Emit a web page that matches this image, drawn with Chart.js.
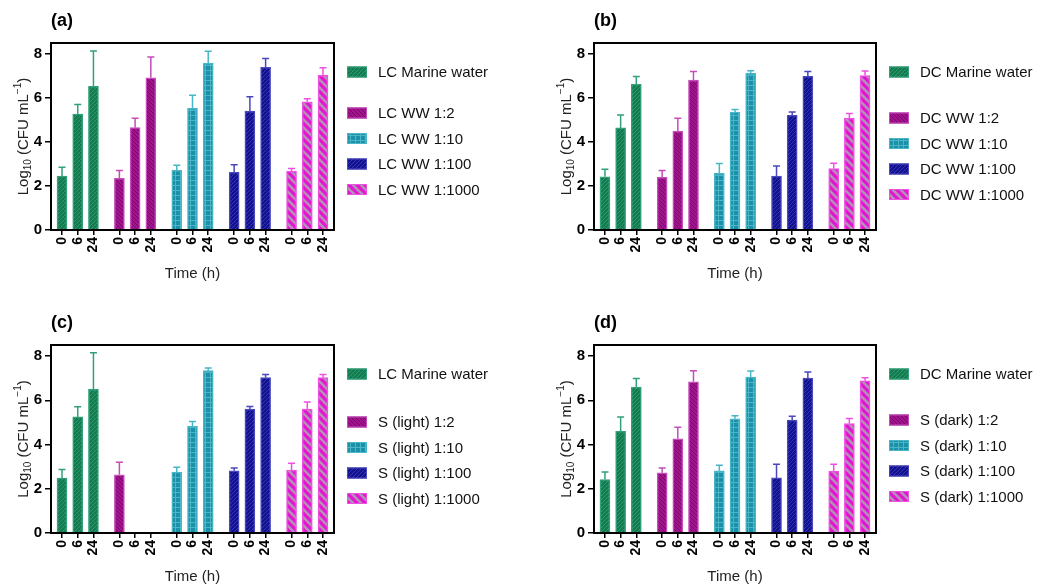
<!DOCTYPE html>
<html>
<head>
<meta charset="utf-8">
<script src="https://cdn.jsdelivr.net/npm/chart.js@4.4.1/dist/chart.umd.min.js"></script>
<style>
  body { margin: 0; background: #fff; width: 1051px; height: 585px; position: relative; overflow: hidden; }
  canvas { position: absolute; }
</style>
</head>
<body>
<canvas id="chartA" width="525" height="290" style="left:0;top:0"></canvas>
<canvas id="chartB" width="508" height="290" style="left:543px;top:0"></canvas>
<canvas id="chartC" width="525" height="283" style="left:0;top:302px"></canvas>
<canvas id="chartD" width="508" height="283" style="left:543px;top:302px"></canvas>
<script>
// Time points shown under each group of bars
const timeLabels = ['0', '6', '24'];
const yTicks = [0, 2, 4, 6, 8];

// Legend labels per panel
const labelsA = ['LC Marine water', 'LC WW 1:2', 'LC WW 1:10', 'LC WW 1:100', 'LC WW 1:1000'];
const labelsB = ['DC Marine water', 'DC WW 1:2', 'DC WW 1:10', 'DC WW 1:100', 'DC WW 1:1000'];
const labelsC = ['LC Marine water', 'S (light) 1:2', 'S (light) 1:10', 'S (light) 1:100', 'S (light) 1:1000'];
const labelsD = ['DC Marine water', 'S (dark) 1:2', 'S (dark) 1:10', 'S (dark) 1:100', 'S (dark) 1:1000'];

// Mean log10 CFU/mL at 0, 6, 24 h (one row per series)
const meansA = [[2.45, 5.27, 6.53], [2.35, 4.65, 6.92], [2.71, 5.53, 7.58], [2.62, 5.41, 7.39], [2.67, 5.83, 7.03]];
const errA   = [[0.40, 0.44, 1.61], [0.35, 0.43, 0.94], [0.23, 0.59, 0.54], [0.35, 0.65, 0.41], [0.13, 0.14, 0.35]];

const meansB = [[2.42, 4.64, 6.62], [2.39, 4.50, 6.82], [2.58, 5.36, 7.12], [2.45, 5.21, 6.98], [2.79, 5.09, 7.02]];
const errB   = [[0.34, 0.59, 0.36], [0.31, 0.58, 0.38], [0.44, 0.12, 0.12], [0.46, 0.15, 0.22], [0.24, 0.21, 0.21]];

const meansC = [[2.48, 5.25, 6.51], [2.63, null, null], [2.75, 4.83, 7.34], [2.81, 5.60, 7.03], [2.85, 5.60, 7.03]];
const errC   = [[0.39, 0.46, 1.64], [0.57, null, null], [0.22, 0.21, 0.12], [0.13, 0.12, 0.14], [0.30, 0.32, 0.14]];

const meansD = [[2.42, 4.60, 6.60], [2.72, 4.26, 6.84], [2.81, 5.16, 7.05], [2.49, 5.10, 7.00], [2.79, 4.95, 6.88]];
const errD   = [[0.34, 0.64, 0.39], [0.22, 0.52, 0.50], [0.25, 0.14, 0.27], [0.62, 0.18, 0.28], [0.32, 0.23, 0.14]];

const FONT = '"Liberation Sans", Arial, sans-serif';

// Bar position on the linear x axis: 3 bars per group, groups spaced apart
const GROUP_STRIDE = 3.65;
function barPos(g, i) { return g * GROUP_STRIDE + i; }
const allPos = [];
for (let g = 0; g < 5; g++) for (let i = 0; i < 3; i++) allPos.push(barPos(g, i));

// Fill patterns like the GraphPad hatching
function makePattern(kind) {
    const c = document.createElement('canvas');
    const x = c.getContext('2d');
    let s = 4;
    if (kind === 'teal') s = 5;
    if (kind === 'magenta') s = 8;
    c.width = s; c.height = s;
    const base = { green: '#147a50', purple: '#a3138f', teal: '#1a91a9', navy: '#12128f', magenta: '#e216d2' }[kind];
    x.fillStyle = base;
    x.fillRect(0, 0, s, s);
    x.lineCap = 'square';
    if (kind === 'green' || kind === 'navy') {
        x.strokeStyle = kind === 'green' ? '#2d9a6c' : '#3535b8';
        x.lineWidth = 1;
        x.beginPath();
        x.moveTo(0, s); x.lineTo(s, 0);
        x.moveTo(-1, 1); x.lineTo(1, -1);
        x.moveTo(s - 1, s + 1); x.lineTo(s + 1, s - 1);
        x.stroke();
    } else if (kind === 'purple') {
        x.strokeStyle = '#760866';
        x.lineWidth = 1;
        x.beginPath();
        x.moveTo(0, 0); x.lineTo(s, s);
        x.moveTo(s - 1, -1); x.lineTo(s + 1, 1);
        x.moveTo(-1, s - 1); x.lineTo(1, s + 1);
        x.stroke();
    } else if (kind === 'teal') {
        x.fillStyle = '#4cb6c6';
        x.fillRect(0, 0, s, 1);
        x.fillRect(0, 0, 1, s);
    } else if (kind === 'magenta') {
        x.strokeStyle = '#b392b6';
        x.lineWidth = 2.6;
        x.beginPath();
        x.moveTo(0, 0); x.lineTo(s, s);
        x.moveTo(s - 4, -4); x.lineTo(s + 4, 4);
        x.moveTo(-4, s - 4); x.lineTo(4, s + 4);
        x.stroke();
    }
    return x.createPattern(c, 'repeat');
}

const kinds = ['green', 'purple', 'teal', 'navy', 'magenta'];
const borderColors = ['#32a07a', '#c44dba', '#48b6c6', '#4848bc', '#ef50e2'];

// Error bars, frame, legend and titles
const overlay = {
    id: 'overlay',
    afterDatasetsDraw(chart) {
        const ctx = chart.ctx;
        const y = chart.scales.y;
        chart.data.datasets.forEach((ds, i) => {
            const meta = chart.getDatasetMeta(i);
            meta.data.forEach((bar, j) => {
                const m = ds.data[j].y;
                const e = ds.errors[j];
                if (m == null || e == null) return;
                const top = y.getPixelForValue(m + e);
                const bt = y.getPixelForValue(m);
                ctx.save();
                ctx.strokeStyle = ds.borderColor;
                ctx.lineWidth = 1.5;
                ctx.beginPath();
                ctx.moveTo(bar.x, bt);
                ctx.lineTo(bar.x, top);
                ctx.moveTo(bar.x - 3.5, top);
                ctx.lineTo(bar.x + 3.5, top);
                ctx.stroke();
                ctx.restore();
            });
        });
    },
    afterDraw(chart, args, opts) {
        const ctx = chart.ctx;
        const a = chart.chartArea;
        ctx.save();

        // frame
        ctx.strokeStyle = '#000';
        ctx.lineWidth = 2;
        ctx.strokeRect(a.left, a.top, a.right - a.left, a.bottom - a.top);

        // panel letter
        ctx.fillStyle = '#000';
        ctx.font = 'bold 18px ' + FONT;
        ctx.textBaseline = 'middle';
        ctx.textAlign = 'left';
        ctx.fillText(opts.letter, a.left, a.top - 22);

        // x title
        ctx.font = '15px ' + FONT;
        ctx.fillStyle = '#222';
        ctx.textAlign = 'center';
        ctx.fillText('Time (h)', (a.left + a.right) / 2, a.bottom + 44);

        // y title with subscript / superscript
        ctx.translate(24, (a.top + a.bottom) / 2);
        ctx.rotate(-Math.PI / 2);
        const parts = [
            { t: 'Log', size: 15, dy: 0 },
            { t: '10', size: 10, dy: 4 },
            { t: ' (CFU mL', size: 15, dy: 0 },
            { t: '\u22121', size: 10, dy: -6 },
            { t: ')', size: 15, dy: 0 }
        ];
        let total = 0;
        parts.forEach(p => { ctx.font = p.size + 'px ' + FONT; p.w = ctx.measureText(p.t).width; total += p.w; });
        let px = -total / 2;
        ctx.textAlign = 'left';
        parts.forEach(p => {
            ctx.font = p.size + 'px ' + FONT;
            ctx.fillText(p.t, px, p.dy);
            px += p.w;
        });
        ctx.setTransform(1, 0, 0, 1, 0, 0);

        // legend
        chart.data.datasets.forEach((ds, i) => {
            const cy = a.top + 29 + (i === 0 ? 0 : opts.legendGap + (i - 1) * 25.5);
            const sx = a.right + 13;
            ctx.fillStyle = ds.backgroundColor;
            ctx.fillRect(sx, cy - 5.5, 20, 11);
            ctx.strokeStyle = ds.borderColor;
            ctx.lineWidth = 1;
            ctx.strokeRect(sx + 0.5, cy - 5, 19, 10);
            ctx.fillStyle = '#111';
            ctx.font = '15px ' + FONT;
            ctx.textAlign = 'left';
            ctx.textBaseline = 'middle';
            ctx.fillText(ds.label, a.right + 44, cy + 1);
        });
        ctx.restore();
    }
};

function makeChart(id, letter, labels, means, errs, rightPad, xAxisH, legendGap) {
    const datasets = labels.map((lab, g) => ({
        label: lab,
        data: means[g].map((v, i) => ({ x: barPos(g, i), y: v })),
        errors: errs[g],
        backgroundColor: makePattern(kinds[g]),
        borderColor: borderColors[g],
        borderWidth: 1.5,
        barThickness: 10,
        grouped: false
    }));

    new Chart(document.getElementById(id), {
        type: 'bar',
        data: { datasets },
        plugins: [overlay],
        options: {
            responsive: false,
            animation: false,
            devicePixelRatio: 1,
            layout: { padding: { top: 43, right: rightPad, left: 0, bottom: 0 } },
            plugins: {
                legend: { display: false },
                tooltip: { enabled: false },
                overlay: { letter, legendGap }
            },
            scales: {
                x: {
                    type: 'linear',
                    offset: false,
                    min: -0.7,
                    max: barPos(4, 2) + 0.7,
                    border: { display: false },
                    grid: { offset: false, drawOnChartArea: false, drawTicks: true, tickLength: 5, color: '#000', lineWidth: 1.5 },
                    ticks: {
                        autoSkip: false,
                        minRotation: 90,
                        maxRotation: 90,
                        padding: 2,
                        color: '#000',
                        font: { family: FONT, size: 14, weight: 'bold' },
                        callback: (v, i) => timeLabels[i % 3]
                    },
                    afterBuildTicks: s => { s.ticks = allPos.map(v => ({ value: v })); },
                    afterFit: s => { s.height = xAxisH; }
                },
                y: {
                    min: 0,
                    max: 8.5,
                    border: { display: false },
                    grid: { drawOnChartArea: false, drawTicks: true, tickLength: 6, color: '#000', lineWidth: 1.5 },
                    ticks: {
                        padding: 3,
                        color: '#000',
                        font: { family: FONT, size: 15, weight: 'bold' }
                    },
                    afterBuildTicks: s => { s.ticks = yTicks.map(v => ({ value: v })); },
                    afterFit: s => { s.width = 51; }
                }
            }
        }
    });
}

makeChart('chartA', '(a)', labelsA, meansA, errA, 191, 60, 41);
makeChart('chartB', '(b)', labelsB, meansB, errB, 175, 60, 46);
makeChart('chartC', '(c)', labelsC, meansC, errC, 191, 52, 48);
makeChart('chartD', '(d)', labelsD, meansD, errD, 175, 52, 46);
</script>
</body>
</html>
